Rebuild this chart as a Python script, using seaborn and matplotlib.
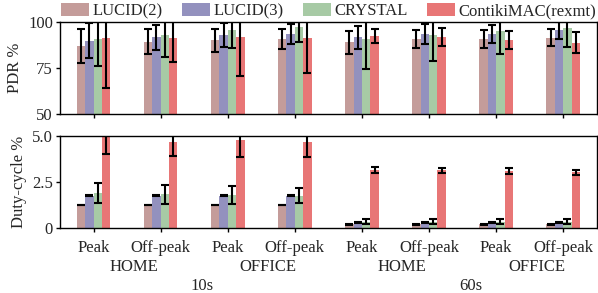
import matplotlib
matplotlib.use("Agg")
import numpy as np
import pandas as pd
import matplotlib.pyplot as plt
import seaborn as sns

sns.set_theme(style="ticks")
plt.rcParams["font.family"] = ["Liberation Serif", "DejaVu Serif"]
plt.rcParams["font.size"] = 12

# ── data ──────────────────────────────────────────────────────────────────────
protocols = ["LUCID(2)", "LUCID(3)", "CRYSTAL", "ContikiMAC(rexmt)"]
colors = ["#c49c9a", "#9391be", "#a7caa5", "#e87676"]

tick_labels = ["Peak", "Off-peak"] * 4
sites = ["HOME", "OFFICE", "HOME", "OFFICE"]
intervals = ["10s", "60s"]

# PDR %  (mean, error)
pdr_lucid2 = [87.1, 89.5, 90.2, 90.9, 89.1, 90.9, 90.9, 91.7]
pdr_lucid3 = [90.0, 91.8, 93.1, 93.7, 91.8, 93.5, 93.5, 95.7]
pdr_crystal = [90.9, 93.1, 95.8, 97.3, 90.9, 93.1, 95.5, 96.9]
pdr_contiki = [91.3, 91.7, 92.0, 91.3, 92.6, 92.2, 90.2, 89.0]
pdr_err_lucid2 = [9.3, 6.9, 6.2, 5.4, 6.4, 5.0, 4.9, 4.6]
pdr_err_lucid3 = [9.6, 6.6, 6.3, 5.4, 6.4, 5.3, 4.8, 4.6]
pdr_err_crystal = [14.6, 12.1, 9.9, 8.2, 16.4, 14.1, 12.7, 10.5]
pdr_err_contiki = [26.8, 13.1, 21.2, 18.7, 3.8, 4.9, 4.8, 5.5]

# Duty-cycle %  (mean, error)
dc_lucid2 = [1.25, 1.25, 1.25, 1.25, 0.20, 0.20, 0.20, 0.20]
dc_lucid3 = [1.75, 1.75, 1.75, 1.75, 0.30, 0.30, 0.30, 0.30]
dc_crystal = [1.88, 1.82, 1.79, 1.75, 0.33, 0.33, 0.33, 0.33]
dc_contiki = [4.91, 4.64, 4.77, 4.64, 3.12, 3.12, 3.09, 3.01]
dc_err_lucid2 = [0.02, 0.02, 0.02, 0.02, 0.02, 0.02, 0.02, 0.02]
dc_err_lucid3 = [0.02, 0.02, 0.02, 0.02, 0.02, 0.02, 0.02, 0.02]
dc_err_crystal = [0.55, 0.50, 0.48, 0.41, 0.14, 0.14, 0.13, 0.13]
dc_err_contiki = [0.90, 0.76, 0.94, 0.78, 0.16, 0.15, 0.15, 0.14]

# ── long-form table ───────────────────────────────────────────────────────────
slots = [f"{intervals[i // 4]}-{sites[i // 2]}-{tick_labels[i]}" for i in range(8)]
pdr = [pdr_lucid2, pdr_lucid3, pdr_crystal, pdr_contiki]
pdr_err = [pdr_err_lucid2, pdr_err_lucid3, pdr_err_crystal, pdr_err_contiki]
dc = [dc_lucid2, dc_lucid3, dc_crystal, dc_contiki]
dc_err = [dc_err_lucid2, dc_err_lucid3, dc_err_crystal, dc_err_contiki]

rows = []
for p, name in enumerate(protocols):
    for s, slot in enumerate(slots):
        rows.append({"slot": slot, "protocol": name, "pdr": pdr[p][s], "dc": dc[p][s]})
df = pd.DataFrame(rows)

# ── figure ────────────────────────────────────────────────────────────────────
fig = plt.figure(figsize=(5.98, 2.93), dpi=100)
ax_top = fig.add_axes([0.1003, 0.610, 0.8977, 0.314])
ax_bot = fig.add_axes([0.1003, 0.222, 0.8977, 0.315])


def draw(ax, col, errs):
    sns.barplot(data=df, x="slot", y=col, hue="protocol", order=slots,
                hue_order=protocols, palette=colors, width=0.5, errorbar=None,
                saturation=1, linewidth=0, legend=False, ax=ax)
    for cont, e in zip(ax.containers, errs):
        xs = [b.get_x() + b.get_width() / 2 for b in cont]
        ys = [b.get_height() for b in cont]
        ax.errorbar(xs, ys, yerr=e, fmt="none", ecolor="black",
                    elinewidth=1.5, capsize=3, capthick=1.5, zorder=3)
    ax.set_xlim(-0.5, 7.5)
    ax.set_xlabel("")
    for sp in ax.spines.values():
        sp.set_linewidth(1.0)
        sp.set_color("black")
    ax.tick_params(length=3, width=1, color="black", labelsize=12, pad=2)


draw(ax_top, "pdr", pdr_err)
ax_top.set_ylim(50, 100)
ax_top.set_yticks([50, 75, 100])
ax_top.set_xticks(range(8))
ax_top.set_xticklabels([])
ax_top.set_ylabel("PDR %", fontsize=12, labelpad=4)

draw(ax_bot, "dc", dc_err)
ax_bot.set_ylim(0, 5)
ax_bot.set_yticks([0, 2.5, 5.0])
ax_bot.set_yticklabels(["0", "2.5", "5.0"])
ax_bot.set_xticks(range(8))
ax_bot.set_xticklabels(tick_labels)
ax_bot.tick_params(axis="x", pad=6)
ax_bot.set_ylabel("Duty-cycle %", fontsize=12, labelpad=4)

# group labels
tr = ax_bot.get_xaxis_transform()
for i, site in enumerate(sites):
    ax_bot.text(2 * i + 0.5 + 0.1, -0.42, site, transform=tr,
                ha="center", va="center", fontsize=12)
for i, iv in enumerate(intervals):
    ax_bot.text(4 * i + 1.5 + 0.12, -0.625, iv, transform=tr,
                ha="center", va="center", fontsize=12)

# legend
handles = [plt.Rectangle((0, 0), 1, 1, color=c, lw=0) for c in colors]
ax_top.legend(handles, protocols, loc="lower center", bbox_to_anchor=(0.5, 1.0),
              ncol=4, frameon=False, fontsize=12, handlelength=1.7,
              handleheight=0.8, handletextpad=0.2, columnspacing=1.15,
              borderaxespad=0.1, borderpad=0.1)

fig.savefig("out.png", dpi=100)
